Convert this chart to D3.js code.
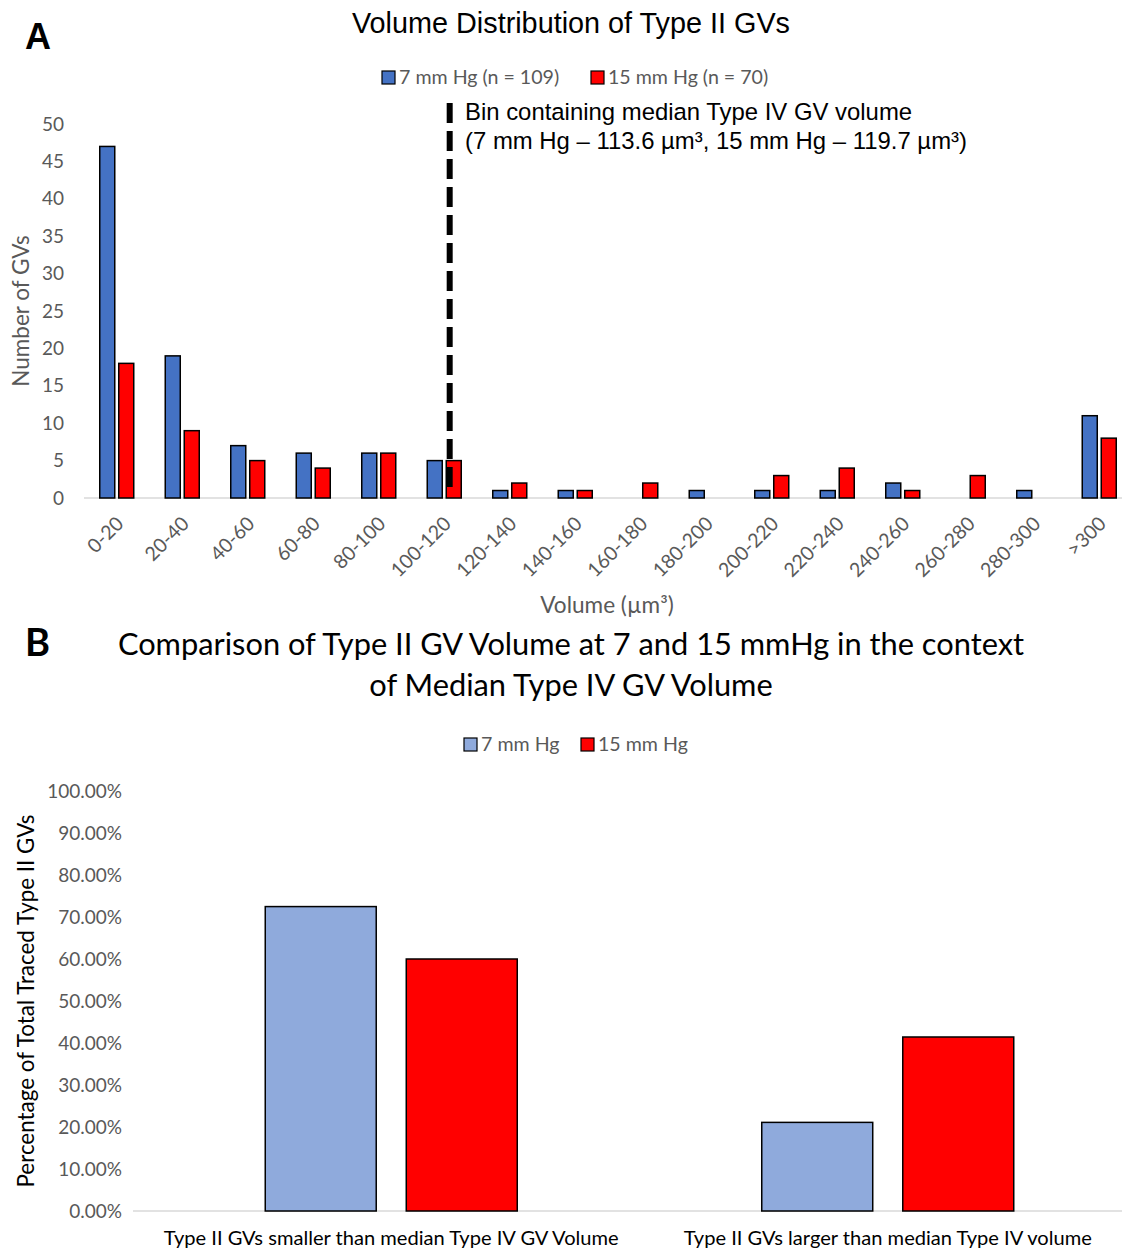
<!DOCTYPE html>
<html>
<head>
<meta charset="utf-8">
<script src="https://cdn.jsdelivr.net/npm/d3@7"></script>
<style>
  html, body { margin: 0; padding: 0; background: #fff; }
  svg { display: block; }
</style>
</head>
<body>
<svg id="fig" width="1122" height="1249"></svg>
<script>
// ---- Panel A: histogram of Type II GV volumes ----
const bins = ["0-20", "20-40", "40-60", "60-80", "80-100", "100-120", "120-140", "140-160",
              "160-180", "180-200", "200-220", "220-240", "240-260", "260-280", "280-300", ">300"];
const counts7  = [47, 19, 7, 6, 6, 5, 1, 1, 0, 1, 1, 1, 2, 0, 1, 11];
const counts15 = [18, 9, 5, 4, 6, 5, 2, 1, 2, 0, 3, 4, 1, 3, 0, 8];
const seriesA = ["7 mm Hg (n = 109)", "15 mm Hg (n = 70)"];
const countTicks = [0, 5, 10, 15, 20, 25, 30, 35, 40, 45, 50];
const medianBin = "100-120";
const annotationLines = ["Bin containing median Type IV GV volume",
                         "(7 mm Hg \u2013 113.6 \u00b5m\u00b3, 15 mm Hg \u2013 119.7 \u00b5m\u00b3)"];

// ---- Panel B: share of Type II GVs below / above the Type IV median ----
const groupsB = ["Type II GVs smaller than median Type IV GV Volume",
                 "Type II GVs larger than median Type IV volume"];
const pct7  = [0.7248, 0.2110];
const pct15 = [0.6000, 0.4143];
const seriesB = ["7 mm Hg", "15 mm Hg"];
const pctTicks = [0, 0.1, 0.2, 0.3, 0.4, 0.5, 0.6, 0.7, 0.8, 0.9, 1.0];

const svg = d3.select("#fig");
const ARIAL = "'Liberation Sans', Arial, sans-serif";
const CAL = "Lato, 'Open Sans', sans-serif";
const GREY = "#595959";
const AXIS = "#D9D9D9";

// ================= Panel A =================
{
  const colors = ["#4472C4", "#FF0000"];
  const x0 = d3.scaleBand().domain(bins).range([84, 1132])
    .paddingInner(1 - 34 / 65.5).paddingOuter((1 - 34 / 65.5) / 2);
  const x1 = d3.scaleBand().domain(seriesA).range([0, x0.bandwidth()]).paddingInner(0.21);
  const y = d3.scaleLinear().domain([0, 50]).range([498, 124]);

  svg.append("text").attr("x", 25).attr("y", 49)
    .style("font-family", ARIAL).style("font-weight", "bold").style("font-size", "36px")
    .text("A");

  svg.append("text").attr("x", 571).attr("y", 33).attr("text-anchor", "middle")
    .style("font-family", ARIAL).style("font-size", "28.8px").attr("fill", "#000")
    .text("Volume Distribution of Type II GVs");

  // legend
  const legA = svg.append("g").style("font-family", CAL).style("font-size", "19.6px");
  const legPos = [382, 591];
  seriesA.forEach((s, i) => {
    legA.append("rect").attr("x", legPos[i]).attr("y", 71).attr("width", 13).attr("height", 13)
      .attr("fill", colors[i]).attr("stroke", "#000").attr("stroke-width", 1.2);
    legA.append("text").attr("x", legPos[i] + 17).attr("y", 84).attr("fill", GREY).text(s);
  });

  // y axis (labels only, no line)
  const yAxis = svg.append("g").attr("transform", "translate(70,0)")
    .call(d3.axisLeft(y).tickValues(countTicks).tickSize(0).tickPadding(6));
  yAxis.select(".domain").remove();
  yAxis.selectAll("text").style("font-family", CAL).style("font-size", "19px").attr("fill", GREY);

  svg.append("text").attr("transform", "translate(29,311) rotate(-90)").attr("text-anchor", "middle")
    .style("font-family", CAL).style("font-size", "22.5px").attr("fill", GREY).text("Number of GVs");

  // baseline
  svg.append("line").attr("x1", 84).attr("x2", 1132).attr("y1", y(0)).attr("y2", y(0))
    .attr("stroke", AXIS).attr("stroke-width", 1.5);

  // bars
  const rows = bins.map((b, i) => ({ bin: b, vals: [counts7[i], counts15[i]] }));
  const g = svg.append("g");
  rows.forEach(r => {
    r.vals.forEach((v, k) => {
      if (v <= 0) return;
      g.append("rect")
        .attr("x", x0(r.bin) + x1(seriesA[k]))
        .attr("y", y(v))
        .attr("width", x1.bandwidth())
        .attr("height", y(0) - y(v))
        .attr("fill", colors[k]).attr("stroke", "#000").attr("stroke-width", 1.5);
    });
  });

  // x tick labels, rotated
  const xAxis = svg.append("g").attr("transform", `translate(0,${y(0)})`)
    .call(d3.axisBottom(x0).tickSize(0).tickPadding(0));
  xAxis.select(".domain").remove();
  xAxis.selectAll("text")
    .style("font-family", CAL).style("font-size", "19.6px").attr("fill", GREY)
    .attr("text-anchor", "end").attr("dy", 0)
    .attr("transform", "translate(8,27) rotate(-45)");

  svg.append("text").attr("x", 607).attr("y", 613).attr("text-anchor", "middle")
    .style("font-family", CAL).style("font-size", "22.6px").attr("fill", GREY)
    .text("Volume (\u00b5m\u00b3)");

  // dashed marker for the bin that holds the Type IV median
  const mx = x0(medianBin) + x0.bandwidth() * 0.66;
  svg.append("line").attr("x1", mx).attr("x2", mx).attr("y1", 103).attr("y2", y(0) - 3)
    .attr("stroke", "#000").attr("stroke-width", 6).attr("stroke-dasharray", "20,8");

  const ann = svg.append("text").style("font-family", ARIAL).style("font-size", "23.9px").attr("fill", "#000");
  annotationLines.forEach((t, i) => {
    ann.append("tspan").attr("x", 465).attr("y", 120 + i * 29).text(t);
  });
}

// ================= Panel B =================
{
  const colors = ["#8FAADC", "#FF0000"];
  const x0 = d3.scaleBand().domain(groupsB).range([143, 1136]);
  const x1 = d3.scaleBand().domain(seriesB).range([0, 252]).paddingInner(0.213);
  const y = d3.scaleLinear().domain([0, 1]).range([1211, 791]);

  svg.append("text").attr("x", 25).attr("y", 656)
    .style("font-family", CAL).style("font-weight", "bold").style("font-size", "38px")
    .text("B");

  const title = svg.append("text").attr("text-anchor", "middle")
    .style("font-family", CAL).style("font-size", "30.8px").attr("fill", "#000");
  title.append("tspan").attr("x", 571).attr("y", 655)
    .text("Comparison of Type II GV Volume at 7 and 15 mmHg in the context");
  title.append("tspan").attr("x", 571).attr("y", 696).text("of Median Type IV GV Volume");

  const legB = svg.append("g").style("font-family", CAL).style("font-size", "19.6px");
  const legPos = [464, 581];
  seriesB.forEach((s, i) => {
    legB.append("rect").attr("x", legPos[i]).attr("y", 738).attr("width", 13).attr("height", 13)
      .attr("fill", colors[i]).attr("stroke", "#000").attr("stroke-width", 1.2);
    legB.append("text").attr("x", legPos[i] + 17).attr("y", 751).attr("fill", GREY).text(s);
  });

  const yAxis = svg.append("g").attr("transform", "translate(128,0)")
    .call(d3.axisLeft(y).tickValues(pctTicks).tickSize(0).tickPadding(6).tickFormat(d3.format(".2%")));
  yAxis.select(".domain").remove();
  yAxis.selectAll("text").style("font-family", CAL).style("font-size", "19px").attr("fill", GREY);

  svg.append("text").attr("transform", "translate(34,1001) rotate(-90)").attr("text-anchor", "middle")
    .style("font-family", CAL).style("font-size", "22.4px").attr("fill", "#000")
    .text("Percentage of Total Traced Type II GVs");

  svg.append("line").attr("x1", 133).attr("x2", 1136).attr("y1", y(0)).attr("y2", y(0))
    .attr("stroke", AXIS).attr("stroke-width", 1.5);

  const g = svg.append("g");
  groupsB.forEach((grp, i) => {
    [pct7[i], pct15[i]].forEach((v, k) => {
      g.append("rect")
        .attr("x", x0(grp) + (x0.bandwidth() - 252) / 2 + x1(seriesB[k]))
        .attr("y", y(v))
        .attr("width", x1.bandwidth())
        .attr("height", y(0) - y(v))
        .attr("fill", colors[k]).attr("stroke", "#000").attr("stroke-width", 1.5);
    });
  });

  const xAxis = svg.append("g").attr("transform", `translate(0,${y(0)})`)
    .call(d3.axisBottom(x0).tickSize(0).tickPadding(0));
  xAxis.select(".domain").remove();
  xAxis.selectAll("text").style("font-family", CAL).style("font-size", "20.1px")
    .attr("fill", "#000").attr("dy", 0).attr("y", 34);
}
</script>
</body>
</html>
